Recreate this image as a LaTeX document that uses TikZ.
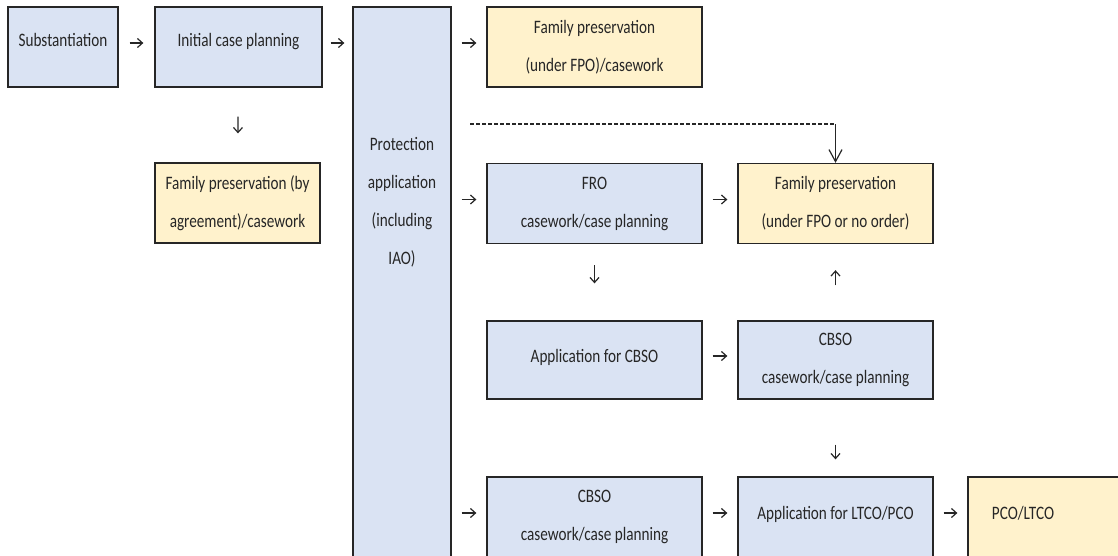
\documentclass[tikz,border=0pt]{standalone}
\usepackage{fontspec}
\setmainfont{Carlito}[FakeStretch=0.8]
\usetikzlibrary{arrows.meta}
\definecolor{boxblue}{HTML}{DAE3F3}
\definecolor{boxyellow}{HTML}{FFF2CC}
\definecolor{inkgray}{HTML}{262626}
\begin{document}
\begin{tikzpicture}[x=1pt, y=-1pt,
    box/.style={draw=inkgray, line width=1.3pt, align=center, inner sep=0pt,
        text=inkgray, font={\fontsize{19pt}{38pt}\selectfont}},
    bluebox/.style={box, fill=boxblue},
    yelbox/.style={box, fill=boxyellow},
    oneline/.style={text height=13pt, text depth=#1},
    flow/.style={-{Straight Barb[length=5pt,width=9pt]}, line width=1.2pt, draw=inkgray}]
        \useasboundingbox (0,0) rectangle (1118,555);
        \clip (0,0) rectangle (1118,555);

        \node[bluebox, oneline=15pt, minimum width=110pt, minimum height=80pt] (n1) at (63,47) {Substantiation};
        \node[bluebox, oneline=15pt, minimum width=167pt, minimum height=80pt] (n2) at (238.5,47) {Initial case planning};
        \node[bluebox, minimum width=98pt, minimum height=573pt] (n3) at (402,293.5) {};
        \node[text=inkgray, align=center, font={\fontsize{19pt}{38pt}\selectfont}] (n3t) at (402,202)
            {Protection\\application\\(including\\IAO)};
        \node[yelbox, minimum width=215pt, minimum height=80pt] (n4) at (594.5,47) {Family preservation\\(under FPO)/casework};
        \node[yelbox, minimum width=165pt, minimum height=80pt] (n5) at (237.5,203) {Family preservation (by\\agreement)/casework};
        \node[bluebox, minimum width=215pt, minimum height=80pt] (n6) at (594.5,203.5) {FRO\\casework/case planning};
        \node[yelbox, minimum width=195pt, minimum height=80pt] (n7) at (835.5,203.5) {Family preservation\\(under FPO or no order)};
        \node[bluebox, oneline=9pt, minimum width=215pt, minimum height=78pt] (n8) at (594.5,360) {Application for CBSO};
        \node[bluebox, minimum width=195pt, minimum height=78pt] (n9) at (835.5,360) {CBSO\\casework/case planning};
        \node[bluebox, minimum width=215pt, minimum height=80pt] (n10) at (594.5,517) {CBSO\\casework/case planning};
        \node[bluebox, oneline=9pt, minimum width=195pt, minimum height=80pt] (n11) at (835.5,517) {Application for LTCO/PCO};
        \node[yelbox, minimum width=180pt, minimum height=80pt] (n12) at (1058,517) {};
        \node[text=inkgray, font={\fontsize{19pt}{38pt}\selectfont}] (n12t) at (1023,513) {PCO/LTCO};
        \coordinate (d1) at (470,124);

        \draw[flow, shorten <=11pt, shorten >=11pt] ([yshift=4pt]n1.east) -- ([yshift=4pt]n2.west);
        \draw[flow, shorten <=8pt, shorten >=8pt] ([yshift=4pt]n2.east) -- ([yshift=4pt]n2.east -| n3.west);
        \draw[flow, shorten <=10pt, shorten >=10pt] ([yshift=4pt]n4.west -| n3.east) -- ([yshift=4pt]n4.west);
        \draw[flow, shorten <=29pt, shorten >=29pt] (n2) -- (n5);
        \draw[flow, shorten <=10pt, shorten >=10pt] ([yshift=4pt]n6.west -| n3.east) -- ([yshift=4pt]n6.west);
        \draw[flow, shorten <=10pt, shorten >=10pt] ([yshift=4pt]n6.east) -- ([yshift=4pt]n7.west);
        \draw[flow, shorten <=21pt, shorten >=37pt] (n6) -- (n8);
        \draw[flow, shorten <=10pt, shorten >=10pt] ([yshift=4pt]n8.east) -- ([yshift=4pt]n9.west);
        \draw[flow, shorten <=35pt, shorten >=26pt] (n9) -- (n7);
        \draw[flow, shorten <=45pt, shorten >=17pt] (n9) -- (n11);
        \draw[flow, shorten <=10pt, shorten >=10pt] ([yshift=4pt]n10.west -| n3.east) -- ([yshift=4pt]n10.west);
        \draw[flow, shorten <=10pt, shorten >=10pt] ([yshift=4pt]n10.east) -- ([yshift=4pt]n11.west);
        \draw[flow, shorten <=10pt, shorten >=10pt] ([yshift=4pt]n11.east) -- ([yshift=4pt]n11.east -| n12.west);
        \draw[line width=1.2pt, draw=inkgray, dash pattern=on 4pt off 2pt] (d1) -- (d1 -| n7.north);
        \draw[line width=1.2pt, draw=inkgray, -{Straight Barb[length=12pt,width=13pt]}] (d1 -| n7.north) -- (n7.north);
\end{tikzpicture}
\end{document}
